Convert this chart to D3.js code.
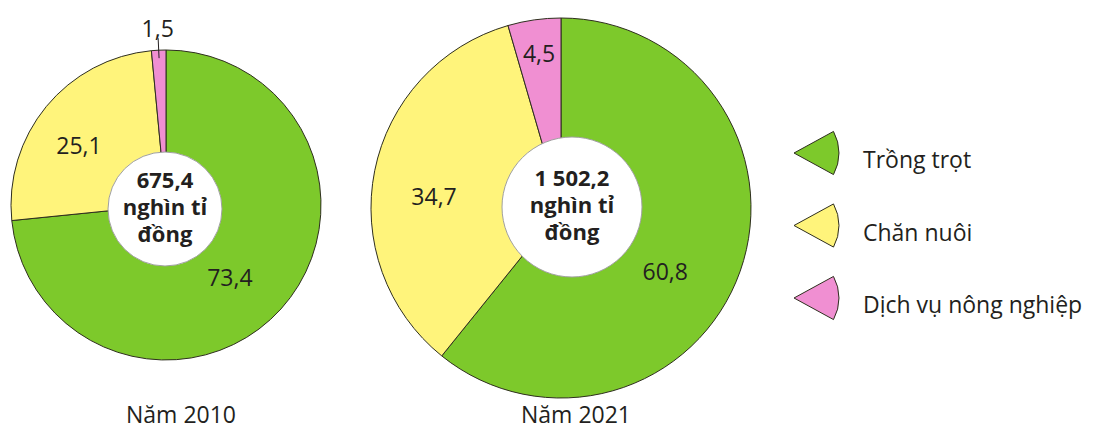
<!DOCTYPE html>
<html>
<head>
<meta charset="UTF-8">
<title>Cơ cấu giá trị sản xuất nông nghiệp</title>
<script src="https://cdn.jsdelivr.net/npm/d3@7"></script>
<style>
  body { margin: 0; background: #fff; }
  text { font-family: "Open Sans", "Noto Sans", sans-serif; fill: #231f20; }
  .slice { stroke: #2e2e1e; stroke-width: 1; }
  .hole { fill: #fff; stroke: #a0a0a0; stroke-width: 1; }
  .total { font-weight: bold; font-size: 22px; }
  .val { font-size: 23px; }
  .year { font-size: 23px; }
  .legend text { font-size: 23px; }
</style>
</head>
<body>
<div id="chart"></div>
<script>
// du lieu (%)
var categories = ["Trồng trọt", "Chăn nuôi", "Dịch vụ nông nghiệp"];
var colors = ["#7dc92b", "#fff47b", "#f08fd2"];
var years = ["Năm 2010", "Năm 2021"];
var totals = ["675,4", "1 502,2"];
var share2010 = [73.4, 25.1, 1.5];
var share2021 = [60.8, 34.7, 4.5];

var width = 1101, height = 430;

var svg = d3.select("#chart").append("svg")
  .attr("width", width)
  .attr("height", height);

// vi tri tung bieu do (tam, ban kinh, lo giua, nhan nam, chinh nhan)
var layout = [
  {cx: 166, cy: 205, r: 155, hx: 165, hy: 209, hr: 57, yearX: 181,
   nudge: [[-12, 4], [-8, 6], [0, 0]]},
  {cx: 561, cy: 208, r: 190, hx: 572, hy: 207, hr: 70, yearX: 576,
   nudge: [[-14, 22], [-4, 14], [0, 0]]}
];
var shares = [share2010, share2021];

var pie = d3.pie().sort(null).value(function(d) { return d; });

shares.forEach(function(vals, k) {
  var L = layout[k];
  var g = svg.append("g").attr("transform", "translate(" + L.cx + "," + L.cy + ")");
  var arc = d3.arc().innerRadius(0).outerRadius(L.r);
  var arcs = pie(vals);

  g.selectAll("path.slice")
    .data(arcs)
    .enter().append("path")
    .attr("class", "slice")
    .attr("d", arc)
    .attr("fill", function(d, i) { return colors[i]; });

  // lo trang o giua
  svg.append("circle")
    .attr("class", "hole")
    .attr("cx", L.hx)
    .attr("cy", L.hy)
    .attr("r", L.hr);

  var lines = [totals[k], "nghìn tỉ", "đồng"];
  svg.selectAll(null)
    .data(lines)
    .enter().append("text")
    .attr("class", "total")
    .attr("x", L.hx)
    .attr("y", function(d, i) { return L.hy - 21 + i * 27; })
    .attr("text-anchor", "middle")
    .text(function(d) { return d; });

  // nhan gia tri
  arcs.forEach(function(d, i) {
    var mid = (d.startAngle + d.endAngle) / 2;
    var f;
    if (d.value < 2) f = 1.14;
    else if (d.value < 10) f = 0.82;
    else f = 0.66;
    var x = Math.sin(mid) * L.r * f + L.nudge[i][0],
        y = -Math.cos(mid) * L.r * f + L.nudge[i][1];
    g.append("text")
      .attr("class", "val")
      .attr("x", x)
      .attr("y", y)
      .attr("dy", "0.35em")
      .attr("text-anchor", "middle")
      .text(d3.format(".1f")(d.value).replace(".", ","));
    if (d.value < 2) {
      // duong dan
      g.append("line")
        .attr("x1", Math.sin(mid) * (L.r + 12))
        .attr("y1", -Math.cos(mid) * (L.r + 12))
        .attr("x2", Math.sin(mid) * (L.r - 8))
        .attr("y2", -Math.cos(mid) * (L.r - 8))
        .attr("stroke", "#231f20")
        .attr("stroke-width", 1);
    }
  });

  svg.append("text")
    .attr("class", "year")
    .attr("x", L.yearX)
    .attr("y", 423)
    .attr("text-anchor", "middle")
    .text(years[k]);
});

// chu giai
var icon = d3.arc().innerRadius(0).outerRadius(45)
  .startAngle(Math.PI / 2 - 0.5).endAngle(Math.PI / 2 + 0.5);

var leg = svg.append("g").attr("class", "legend");
var item = leg.selectAll("g")
  .data(categories)
  .enter().append("g")
  .attr("transform", function(d, i) { return "translate(794," + (153 + i * 72.5) + ")"; });

item.append("path")
  .attr("class", "slice")
  .attr("d", icon)
  .attr("fill", function(d, i) { return colors[i]; });

item.append("text")
  .attr("x", 69)
  .attr("y", 15)
  .text(function(d) { return d; });
</script>
</body>
</html>
